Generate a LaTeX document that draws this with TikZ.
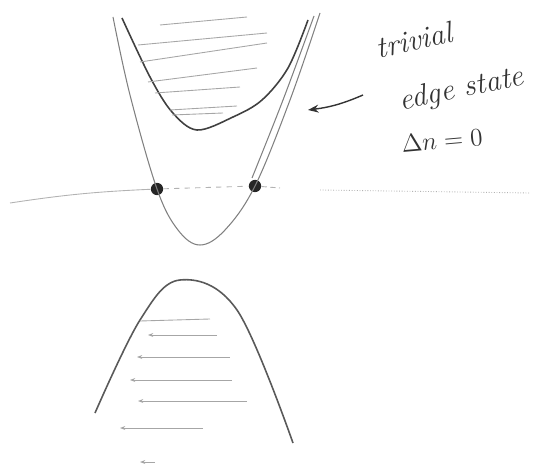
\documentclass[tikz,border=0pt]{standalone}
\usepackage{amsmath,amssymb}
\usepackage{tikz}
\usetikzlibrary{positioning,calc,arrows.meta}
\usepackage{xcolor}

\begin{document}
\begin{tikzpicture}[x=0.02cm,y=-0.02cm,
    band/.style={draw=black!75,line width=0.9pt},
    edgeline/.style={draw=black!50,line width=0.6pt},
    hatch/.style={draw=black!35,line width=0.5pt},
    axisline/.style={draw=black!30,line width=0.5pt},
    dot/.style={circle,fill=black!85,inner sep=0pt,minimum size=7pt},
    note/.style={font=\LARGE\itshape,text=black!80,inner sep=0pt}]
\useasboundingbox (0,0) rectangle (533,469);
% conduction band with hatching
\draw[band] plot[smooth,tension=0.55] coordinates {(122,18) (150,77) (172,112) (197,130) (233,117) (262,100) (288,68) (308,20)};
\foreach \xa/\ya/\xb/\yb in {160/25/247/17,138/45/267/33,140/62/267/43,148/82/257/68,155/93/240/87,170/110/237/106,172/115/223/113} {
    \draw[hatch] (\xa,\ya) -- (\xb,\yb);
}
% edge state crossing the gap
\node[dot] (ptL) at (157,189) {};
\node[dot] (ptR) at (255,186) {};
\draw[edgeline] plot[smooth,tension=0.6] coordinates {(113,17) (130,95) (157,189) (178,230) (200,245) (225,230) (255,186) (290,100) (320,13)};
\draw[edgeline] plot[smooth,tension=0.6] coordinates {(252,178) (283,100) (314,16)};
% Fermi level
\coordinate (fL) at (10,203);
\coordinate (fR) at (530,193);
\draw[axisline] (fL) to[bend left=3] (ptL);
\draw[axisline,dashed] (ptL) -- (ptR);
\draw[axisline,densely dashed] (ptR) -- (280,188);
\draw[axisline,densely dotted] (320,190) -- (fR);
% valence band with hatching
\draw[band,draw=black!65] plot[smooth,tension=0.6] coordinates {(95,413) (140,320) (180,280) (237,310) (293,443)};
\draw[hatch] (140,321) -- (210,319);
\foreach \ya/\xa/\xb in {335/148/217,357/137/230,380/130/232,401/138/247,428/120/203,462/140/155} {
    \draw[hatch,-{Stealth[length=3pt]}] (\xb,\ya) -- (\xa,\ya);
}
% annotation
\node[note,rotate=12] (lblA) at (414,40) {trivial};
\node[note,rotate=12] (lblB) at (462,90) {edge state};
\node[note,rotate=5,font=\Large] (lblC) at (442,140) {$\Delta n=0$};
\coordinate (tip) at (308,110);
\draw[black!80,line width=0.8pt,-{Stealth[length=6pt]}] (363,95) to[bend left=8] (tip);
\end{tikzpicture}
\end{document}
